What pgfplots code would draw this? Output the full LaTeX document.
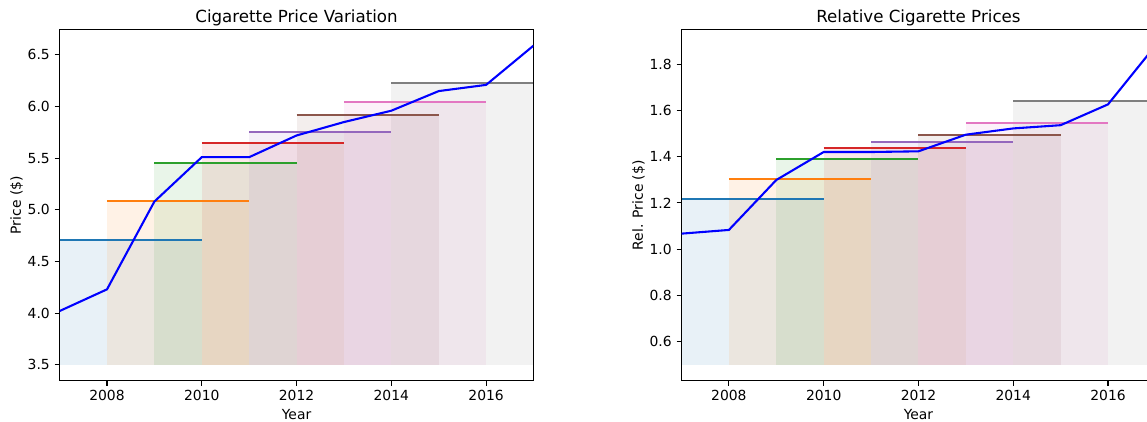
\documentclass[border=0pt]{standalone}
\usepackage{fontspec}
\setmainfont{DejaVu Sans}
\usepackage{pgfplots}
\usepackage{pgfplotstable}
\pgfplotsset{compat=1.18}
\definecolor{C0}{HTML}{1F77B4}
\definecolor{C1}{HTML}{FF7F0E}
\definecolor{C2}{HTML}{2CA02C}
\definecolor{C3}{HTML}{D62728}
\definecolor{C4}{HTML}{9467BD}
\definecolor{C5}{HTML}{8C564B}
\definecolor{C6}{HTML}{E377C2}
\definecolor{C7}{HTML}{7F7F7F}
\definecolor{pblue}{HTML}{0000FF}

\pgfplotstableread{
year price rel
2007 4.02 1.067
2008 4.23 1.083
2009 5.08 1.299
2010 5.51 1.420
2011 5.51 1.420
2012 5.72 1.423
2013 5.85 1.495
2014 5.96 1.522
2015 6.15 1.536
2016 6.21 1.626
2017 6.59 1.880
}\prices

% window: colour, start, end, base, level
\newcommand{\win}[5]{%
  \addplot[draw=none, fill=#1, fill opacity=0.1, forget plot] coordinates {(#2,#4) (#3,#4) (#3,#5) (#2,#5)};
}
\newcommand{\wline}[4]{%
  \addplot[#1, line width=1.5pt, forget plot] coordinates {(#2,#4) (#3,#4)};
}

\pgfplotsset{
  mystyle/.style={
    scale only axis, width=341.2pt, height=252.72pt, anchor=south west,
    xmin=2007, xmax=2017, xtick={2008,2010,...,2016},
    axis line style={line width=0.8pt, black},
    every tick/.style={line width=0.8pt, black},
    major tick length=3.5pt, tick align=outside,
    xtick pos=bottom, ytick pos=left,
    /pgf/number format/assume math mode=true,
    xticklabel style={/pgf/number format/1000 sep={}},
    yticklabel style={/pgf/number format/fixed, /pgf/number format/fixed zerofill, /pgf/number format/precision=1},
    title style={at={(0.5,1)}, anchor=base, yshift=-0.5pt, font=\fontsize{12}{14.4}\selectfont},
    xlabel style={at={(axis description cs:0.5,0)}, anchor=base, yshift=-28pt},
    ylabel style={at={(axis description cs:-0.0815,0.5)}, anchor=base},
    xlabel={Year},
  }
}

\begin{document}
\begin{tikzpicture}
\begin{axis}[mystyle, at={(42.91pt,29.02pt)},
  ymin=3.3455, ymax=6.7445, ytick={3.5,4.0,...,6.5},
  title={Cigarette Price Variation}, ylabel={Price (\$)}]
\win{C0}{2007}{2010}{3.5}{4.710}
\win{C1}{2008}{2011}{3.5}{5.083}
\win{C2}{2009}{2012}{3.5}{5.455}
\win{C3}{2010}{2013}{3.5}{5.645}
\win{C4}{2011}{2014}{3.5}{5.758}
\win{C5}{2012}{2015}{3.5}{5.920}
\win{C6}{2013}{2016}{3.5}{6.043}
\win{C7}{2014}{2017}{3.5}{6.228}
\wline{C0}{2007}{2010}{4.710}
\wline{C1}{2008}{2011}{5.083}
\wline{C2}{2009}{2012}{5.455}
\wline{C3}{2010}{2013}{5.645}
\wline{C4}{2011}{2014}{5.758}
\wline{C5}{2012}{2015}{5.920}
\wline{C6}{2013}{2016}{6.043}
\wline{C7}{2014}{2017}{6.228}
\addplot[pblue, line width=1.5pt] table[x=year, y=price] {\prices};
\end{axis}

\begin{axis}[mystyle, at={(490.68pt,29.02pt)},
  ymin=0.431, ymax=1.949, ytick={0.6,0.8,...,1.81},
  title={Relative Cigarette Prices}, ylabel={Rel. Price (\$)}]
\win{C0}{2007}{2010}{0.5}{1.216}
\win{C1}{2008}{2011}{0.5}{1.305}
\win{C2}{2009}{2012}{0.5}{1.390}
\win{C3}{2010}{2013}{0.5}{1.439}
\win{C4}{2011}{2014}{0.5}{1.464}
\win{C5}{2012}{2015}{0.5}{1.493}
\win{C6}{2013}{2016}{0.5}{1.545}
\win{C7}{2014}{2017}{0.5}{1.641}
\wline{C0}{2007}{2010}{1.216}
\wline{C1}{2008}{2011}{1.305}
\wline{C2}{2009}{2012}{1.390}
\wline{C3}{2010}{2013}{1.439}
\wline{C4}{2011}{2014}{1.464}
\wline{C5}{2012}{2015}{1.493}
\wline{C6}{2013}{2016}{1.545}
\wline{C7}{2014}{2017}{1.641}
\addplot[pblue, line width=1.5pt] table[x=year, y=rel] {\prices};
\end{axis}
\pgfresetboundingbox
\path[use as bounding box] (0,0) rectangle (825.84pt,303.12pt);
\end{tikzpicture}
\end{document}
